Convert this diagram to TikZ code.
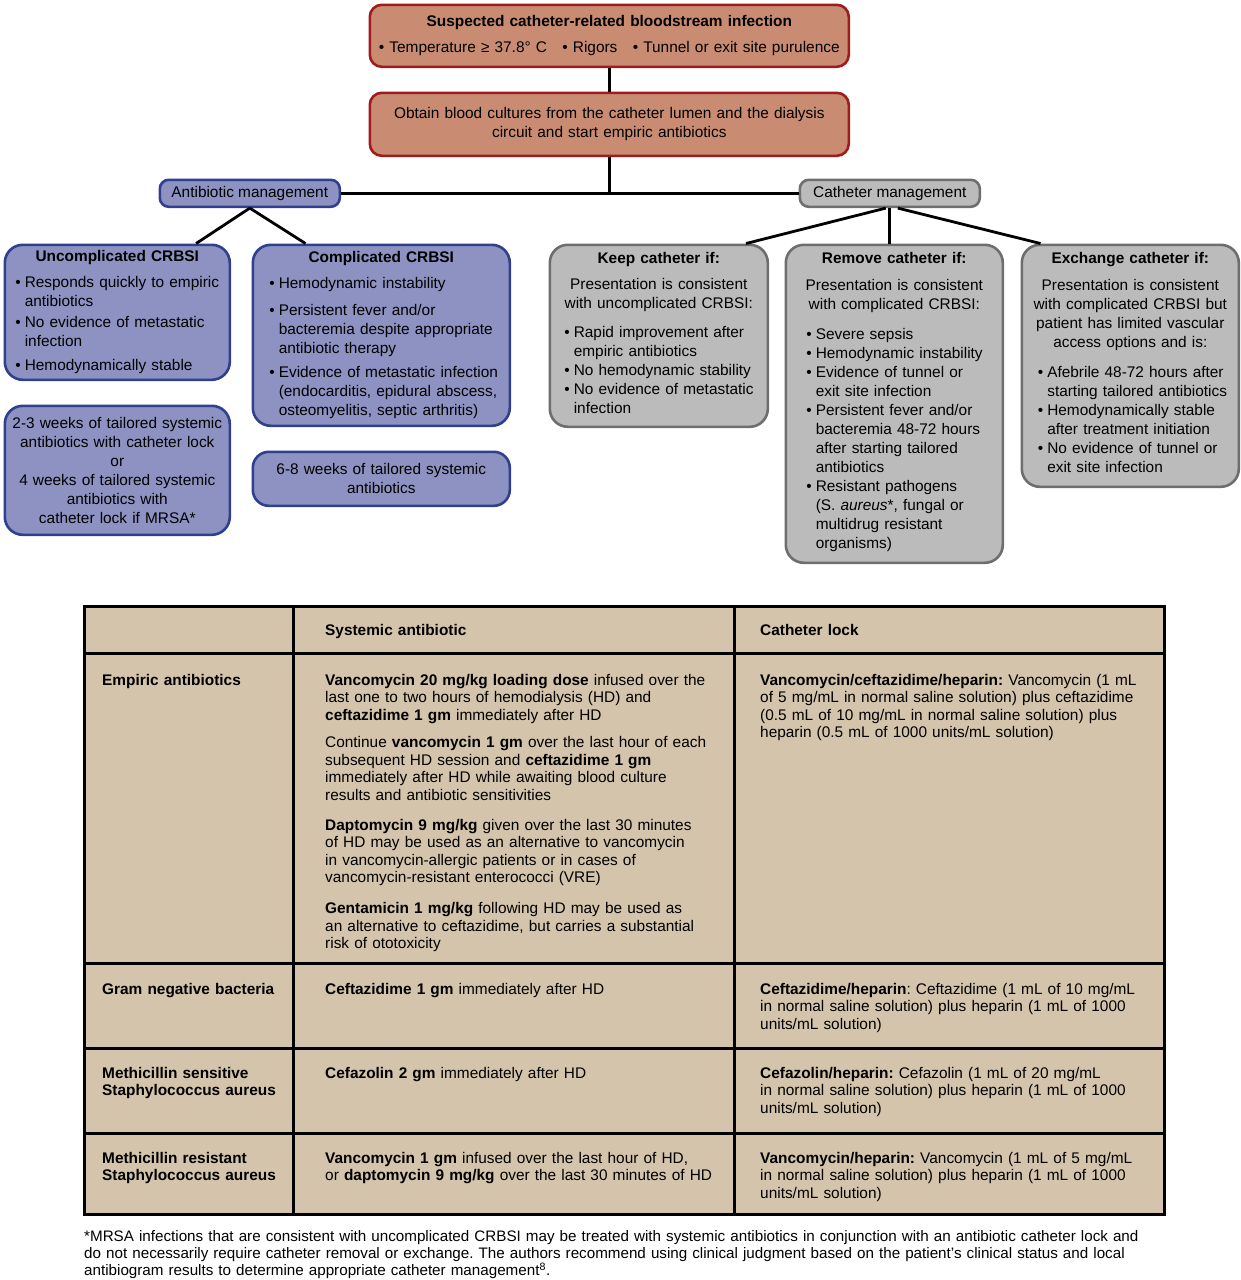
\documentclass[tikz,border=0pt]{standalone}
\usepackage{fontspec}
\setmainfont{Liberation Sans}
\frenchspacing
\definecolor{salmon}{HTML}{C98B72}
\definecolor{darkred}{HTML}{A01C1C}
\definecolor{bluefill}{HTML}{8E92C2}
\definecolor{blueline}{HTML}{30408F}
\definecolor{greyfill}{HTML}{BBBBBB}
\definecolor{greyline}{HTML}{6E6E6E}
\definecolor{tablefill}{HTML}{D4C4AB}
\newcommand{\fs}{\fontsize{15.4}{19}\selectfont}
\newcommand{\tabfs}{\fontsize{15.4}{17.5}\selectfont}
\newcommand{\bul}[1][0pt]{\par\vspace{#1}\hangindent=9.5pt\hangafter=1\noindent\makebox[9.5pt][l]{\textbullet}\ignorespaces}
\newcommand{\tail}[1]{\par\vspace{#1}\hrule height 0pt}

\begin{document}
\begin{tikzpicture}[x=1pt,y=-1pt,
  box/.style={rounded corners=18pt,line width=2.6pt,inner xsep=6pt,inner ysep=0pt,anchor=north west,font=\fs},
  redbox/.style={box,draw=darkred,fill=salmon},
  bluebox/.style={box,draw=blueline,fill=bluefill},
  greybox/.style={box,draw=greyline,fill=greyfill},
  link/.style={line width=2.8pt},
  rule/.style={line width=3pt},
  cell/.style={anchor=base west,inner sep=0pt,text width=#1,align=left,font=\tabfs}]
  \useasboundingbox (0,0) rectangle (1241,1280);
  % flowchart
  \node[redbox,rounded corners=12pt,minimum width=479pt,minimum height=62pt,text width=471pt,inner xsep=4pt,align=center] (susp) at (368.5,3.5)
    {\textbf{Suspected catheter-related bloodstream infection}\\[7pt]\textbullet\ Temperature ≥ 37.8° C\quad\textbullet\ Rigors\quad\textbullet\ Tunnel or exit site purulence};
  \node[redbox,rounded corners=12pt,minimum width=479pt,minimum height=63pt,text width=471pt,inner xsep=4pt,align=center] (cult) at (368.5,91.5)
    {Obtain blood cultures from the catheter lumen and the dialysis\\ circuit and start empiric antibiotics};
  \node[bluebox,rounded corners=9pt,minimum width=180pt,minimum height=27pt] (abx) at (158.5,178.5) {Antibiotic management};
  \node[greybox,rounded corners=9pt,minimum width=180pt,minimum height=27pt] (cath) at (798.5,178.5) {Catheter management};

  \node[bluebox,minimum width=225pt,minimum height=135pt,text width=213pt] (uncomp) at (3.5,243.5) {\raggedright
    {\centering\bfseries Uncomplicated CRBSI\par}\vspace{7pt}\setlength{\leftskip}{4.5pt}
    \bul Responds quickly to empiric\newline antibiotics
    \bul[2pt] No evidence of metastatic\newline infection
    \bul[5pt] Hemodynamically stable\tail{0pt}};
  \node[bluebox,minimum width=257pt,minimum height=181pt,text width=245pt] (comp) at (251.5,243.5) {\raggedright
    {\centering\bfseries Complicated CRBSI\par}\vspace{7pt}\setlength{\leftskip}{10.5pt}
    \bul Hemodynamic instability
    \bul[8pt] Persistent fever and/or\newline bacteremia despite appropriate\newline antibiotic therapy
    \bul[5pt] Evidence of metastatic infection\newline (endocarditis, epidural abscess,\newline osteomyelitis, septic arthritis)\tail{0pt}};
  \node[bluebox,minimum width=225pt,minimum height=129pt,text width=213pt,align=center] (uncomplong) at (3.5,404.5)
    {2-3 weeks of tailored systemic\\ antibiotics with catheter lock\\ or\\ 4 weeks of tailored systemic\\ antibiotics with\\ catheter lock if MRSA*};
  \node[bluebox,rounded corners=16pt,minimum width=257pt,minimum height=54pt,text width=245pt,align=center] (complong) at (251.5,450.5)
    {6-8 weeks of tailored systemic\\ antibiotics};

  \node[greybox,minimum width=218pt,minimum height=182pt,text width=206pt] (keep) at (548.5,243.5) {\raggedright
    {\centering\bfseries Keep catheter if:\par}\vspace{7pt}
    {\centering Presentation is consistent\\ with uncomplicated CRBSI:\par}\vspace{10pt}\setlength{\leftskip}{8.5pt}
    \bul Rapid improvement after\newline empiric antibiotics
    \bul No hemodynamic stability
    \bul No evidence of metastatic\newline infection\tail{6pt}};
  \node[greybox,minimum width=217pt,minimum height=318pt,text width=205pt] (remove) at (784.5,243.5) {\raggedright
    {\centering\bfseries Remove catheter if:\par}\vspace{8pt}
    {\centering Presentation is consistent\\ with complicated CRBSI:\par}\vspace{11pt}\setlength{\leftskip}{14.5pt}
    \bul Severe sepsis
    \bul Hemodynamic instability
    \bul Evidence of tunnel or\newline exit site infection
    \bul Persistent fever and/or\newline bacteremia 48-72 hours\newline after starting tailored\newline antibiotics
    \bul Resistant pathogens\newline (S. \textit{aureus}*, fungal or\newline multidrug resistant\newline organisms)\tail{4pt}};
  \node[greybox,minimum width=217pt,minimum height=242pt,text width=205pt] (exch) at (1020.5,243.5) {\raggedright
    {\centering\bfseries Exchange catheter if:\par}\vspace{8pt}
    {\centering Presentation is consistent\\ with complicated CRBSI but\\ patient has limited vascular\\ access options and is:\par}\vspace{11pt}\setlength{\leftskip}{10pt}
    \bul Afebrile 48-72 hours after\newline starting tailored antibiotics
    \bul Hemodynamically stable\newline after treatment initiation
    \bul No evidence of tunnel or\newline exit site infection\tail{6pt}};

  \draw[link] (susp.south) -- (cult.north);
  \draw[link] (cult.south) -- (cult.south |- abx.east);
  \draw[link] (abx.east) -- (cath.west);
  \draw[link] (abx.south) -- ([xshift=-35pt]uncomp.north east);
  \draw[link] (abx.south) -- ([xshift=54pt]comp.north west);
  \draw[link] ([xshift=-4pt]cath.south) -- ([xshift=-23pt]keep.north east);
  \draw[link] (cath.south) -- (cath.south |- remove.north);
  \draw[link] ([xshift=8pt]cath.south) -- ([xshift=20pt]exch.north west);

  % table
  \draw[rule,fill=tablefill] (84,606) rectangle (1164,1214);
  \foreach \y in {653,963,1048,1133} \draw[rule] (84,\y) -- (1164,\y);
  \foreach \x in {293,734} \draw[rule] (\x,606) -- (\x,1214);

  \node[cell=185pt] (hsys) at (325,635.5) {\textbf{Systemic antibiotic}};
  \node[cell=185pt] (hlock) at (760,635.5) {\textbf{Catheter lock}};

  \node[cell=185pt] (emp) at (102,685) {\textbf{Empiric antibiotics}};
  \node[cell=400pt] (empsys) at (325,685) {\textbf{Vancomycin 20 mg/kg loading dose} infused over the\\
    last one to two hours of hemodialysis (HD) and\\
    \textbf{ceftazidime 1 gm} immediately after HD\\[10pt]
    Continue \textbf{vancomycin 1 gm} over the last hour of each\\
    subsequent HD session and \textbf{ceftazidime 1 gm}\\
    immediately after HD while awaiting blood culture\\
    results and antibiotic sensitivities\\[12.5pt]
    \textbf{Daptomycin 9 mg/kg} given over the last 30 minutes\\
    of HD may be used as an alternative to vancomycin\\
    in vancomycin-allergic patients or in cases of\\
    vancomycin-resistant enterococci (VRE)\\[13.5pt]
    \textbf{Gentamicin 1 mg/kg} following HD may be used as\\
    an alternative to ceftazidime, but carries a substantial\\
    risk of ototoxicity};
  \node[cell=400pt] (emplock) at (760,685) {\textbf{Vancomycin/ceftazidime/heparin:} Vancomycin (1 mL\\
    of 5 mg/mL in normal saline solution) plus ceftazidime\\
    (0.5 mL of 10 mg/mL in normal saline solution) plus\\
    heparin (0.5 mL of 1000 units/mL solution)};

  \node[cell=185pt] (gram) at (102,994) {\textbf{Gram negative bacteria}};
  \node[cell=400pt] (gramsys) at (325,994) {\textbf{Ceftazidime 1 gm} immediately after HD};
  \node[cell=400pt] (gramlock) at (760,994) {\textbf{Ceftazidime/heparin}: Ceftazidime (1 mL of 10 mg/mL\\
    in normal saline solution) plus heparin (1 mL of 1000\\ units/mL solution)};

  \node[cell=185pt] (mssa) at (102,1078) {\textbf{Methicillin sensitive}\\ \textbf{Staphylococcus aureus}};
  \node[cell=400pt] (mssasys) at (325,1078) {\textbf{Cefazolin 2 gm} immediately after HD};
  \node[cell=400pt] (mssalock) at (760,1078) {\textbf{Cefazolin/heparin:} Cefazolin (1 mL of 20 mg/mL\\
    in normal saline solution) plus heparin (1 mL of 1000\\ units/mL solution)};

  \node[cell=185pt] (mrsa) at (102,1163) {\textbf{Methicillin resistant}\\ \textbf{Staphylococcus aureus}};
  \node[cell=400pt] (mrsasys) at (325,1163) {\textbf{Vancomycin 1 gm} infused over the last hour of HD,\\
    or \textbf{daptomycin 9 mg/kg} over the last 30 minutes of HD};
  \node[cell=400pt] (mrsalock) at (760,1163) {\textbf{Vancomycin/heparin:} Vancomycin (1 mL of 5 mg/mL\\
    in normal saline solution) plus heparin (1 mL of 1000\\ units/mL solution)};

  % footnote
  \node[cell=1140pt,font=\fontsize{15.2}{17}\selectfont] (note) at (84,1241.5) {*MRSA infections that are consistent with uncomplicated CRBSI may be treated with systemic antibiotics in conjunction with an antibiotic catheter lock and\\
    do not necessarily require catheter removal or exchange. The authors recommend using clinical judgment based on the patient's clinical status and local\\
    antibiogram results to determine appropriate catheter management\textsuperscript{8}.};
\end{tikzpicture}
\end{document}
